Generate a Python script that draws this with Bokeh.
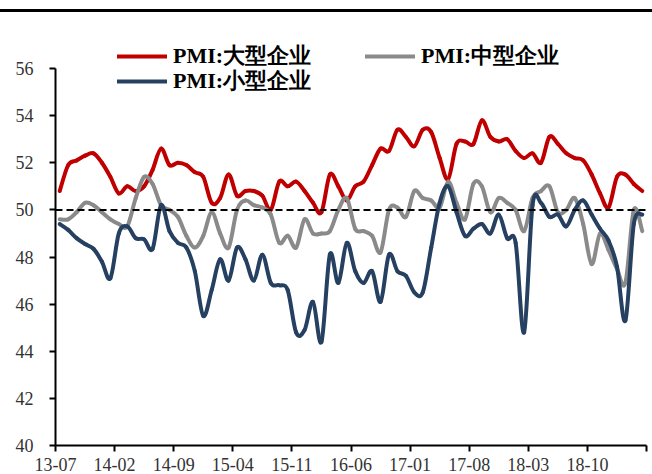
from bokeh.plotting import figure
from bokeh.models import Legend, LegendItem, FixedTicker, Span, ColumnDataSource, Spacer
from bokeh.layouts import column
from bokeh.embed import file_html
from bokeh.resources import INLINE

# ---- data (monthly, 2013-07 .. 2019-04) ----
tick_labels = ["13-07", "14-02", "14-09", "15-04", "15-11", "16-06",
               "17-01", "17-08", "18-03", "18-10", ""]

pmi_large = [50.8, 51.9, 52.1, 52.3, 52.4, 52.0, 51.4, 50.7, 51.0, 50.8,
             51.0, 51.7, 52.6, 51.9, 52.0, 51.9, 51.6, 51.4, 50.3, 50.5,
             51.5, 50.6, 50.8, 50.8, 50.6, 50.0, 51.2, 51.0, 51.2, 50.8,
             50.3, 49.9, 51.5, 51.0, 50.4, 51.0, 51.2, 51.9, 52.6, 52.5,
             53.4, 53.1, 52.7, 53.4, 53.3, 52.2, 51.3, 52.8, 52.9, 52.8,
             53.8, 53.1, 52.9, 53.0, 52.5, 52.2, 52.4, 52.0, 53.1, 52.8,
             52.4, 52.2, 52.1, 51.5, 50.7, 50.1, 51.4, 51.5, 51.1, 50.8]

pmi_medium = [49.6, 49.6, 49.9, 50.3, 50.2, 49.9, 49.6, 49.4, 49.3, 50.5,
              51.4, 51.1, 50.2, 50.0, 49.7, 48.9, 48.4, 48.9, 49.9, 49.0,
              48.4, 50.0, 50.4, 50.2, 50.1, 49.8, 48.6, 48.9, 48.4, 49.6,
              49.0, 49.0, 49.1, 50.0, 50.5, 49.2, 49.1, 48.9, 48.2, 50.0,
              50.1, 49.7, 50.8, 50.5, 50.4, 50.1, 51.2, 50.3, 49.6, 51.1,
              51.0, 49.9, 50.5, 50.3, 50.0, 49.1, 50.5, 50.8, 51.0, 49.9,
              50.0, 50.5, 49.4, 47.7, 49.0, 48.3, 47.5, 46.9, 50.0, 49.1]

pmi_small = [49.4, 49.15, 48.8, 48.55, 48.35, 47.8, 47.1, 49.0, 49.3, 48.8,
             48.75, 48.35, 50.2, 49.1, 48.6, 48.4, 47.4, 45.5, 46.6, 47.9,
             47.0, 48.4, 47.9, 47.0, 48.1, 46.9, 46.8, 46.6, 44.8, 44.9,
             46.1, 44.4, 48.1, 46.9, 48.6, 47.4, 46.9, 47.4, 46.1, 48.1,
             47.4, 47.2, 46.5, 46.5, 48.4, 50.3, 51.0, 49.9, 48.9, 49.2,
             49.4, 49.0, 49.8, 48.8, 48.6, 44.8, 50.2, 50.3, 49.7, 49.8,
             49.3, 50.0, 50.4, 49.8, 49.2, 48.7, 47.6, 45.3, 49.4, 49.8]

series_names = ["PMI:大型企业", "PMI:中型企业", "PMI:小型企业"]
series_colors = ["#C00000", "#8A8A8A", "#254061"]

SERIF = "Liberation Serif"


def smooth_source(values):
    """Bezier segments (Catmull-Rom style control points) through the data."""
    n = len(values)
    xs = [i + 0.5 for i in range(n)]
    d = dict(x0=[], y0=[], x1=[], y1=[], cx0=[], cy0=[], cx1=[], cy1=[])
    for k in range(n - 1):
        km = max(k - 1, 0)
        kp = min(k + 2, n - 1)
        d["x0"].append(xs[k]); d["y0"].append(values[k])
        d["x1"].append(xs[k + 1]); d["y1"].append(values[k + 1])
        d["cx0"].append(xs[k] + (xs[k + 1] - xs[km]) / 6.0)
        d["cy0"].append(values[k] + (values[k + 1] - values[km]) / 6.0)
        d["cx1"].append(xs[k + 1] - (xs[kp] - xs[k]) / 6.0)
        d["cy1"].append(values[k + 1] - (values[kp] - values[k]) / 6.0)
    return ColumnDataSource(d)


# ---- main chart ----
# frame: x 55..646, y 40..445 (page px); 56 sits at y=68, axis line stops there
FRAME_H = 405.0
Y_TOP = 40 + 16 * FRAME_H / 377.0
p = figure(width=652, height=462, x_range=(0, 70), y_range=(40, Y_TOP),
           toolbar_location=None, output_backend="svg",
           min_border_left=55, min_border_right=6, min_border_top=28,
           min_border_bottom=29, outline_line_color=None,
           background_fill_color="white", border_fill_color="white")
p.grid.visible = False

renderers = []
for vals, col in zip([pmi_large, pmi_medium, pmi_small], series_colors):
    r = p.bezier(x0="x0", y0="y0", x1="x1", y1="y1", cx0="cx0", cy0="cy0",
                 cx1="cx1", cy1="cy1", source=smooth_source(vals),
                 line_color=col, line_width=4, line_cap="round")
    renderers.append(r)

p.add_layout(Span(location=50, dimension="width", line_color="black",
                  line_width=2, line_dash="7 4"))

# axes
p.yaxis.ticker = FixedTicker(ticks=list(range(40, 57, 2)))
p.yaxis.bounds = (40, 56)
p.xaxis.ticker = FixedTicker(ticks=list(range(0, 71, 7)))
p.xaxis.major_label_overrides = {i * 7: lab for i, lab in enumerate(tick_labels)}
for ax in (p.xaxis, p.yaxis):
    ax.axis_line_color = "black"
    ax.axis_line_width = 2
    ax.major_tick_line_color = "black"
    ax.major_tick_line_width = 2
    ax.major_tick_in = 0
    ax.major_tick_out = 6
    ax.minor_tick_out = 0
    ax.minor_tick_in = 0
    ax.major_label_text_font = SERIF
    ax.major_label_text_font_size = "18px"
    ax.major_label_text_color = "#333333"
p.yaxis.major_label_standoff = 16
p.xaxis.major_label_standoff = 6

legend_style = dict(orientation="horizontal", padding=0, margin=0,
                    border_line_color=None, background_fill_alpha=0,
                    glyph_width=50, glyph_height=26, label_height=26,
                    label_standoff=6, label_text_font=SERIF,
                    label_text_font_size="22px", label_text_font_style="bold",
                    label_text_color="black")

leg_pos = [(62, 374), (310, 374), (62, 349)]
for r, name, pos in zip(renderers, series_names, leg_pos):
    lg = Legend(items=[LegendItem(label=name, renderers=[r])], location=pos,
                **legend_style)
    p.add_layout(lg)

gap = Spacer(width=652, height=9)
rule = Spacer(width=652, height=3, styles={"background-color": "black"})
layout = column(gap, rule, p, spacing=0)
open("out.html", "w").write(file_html(layout, INLINE))
